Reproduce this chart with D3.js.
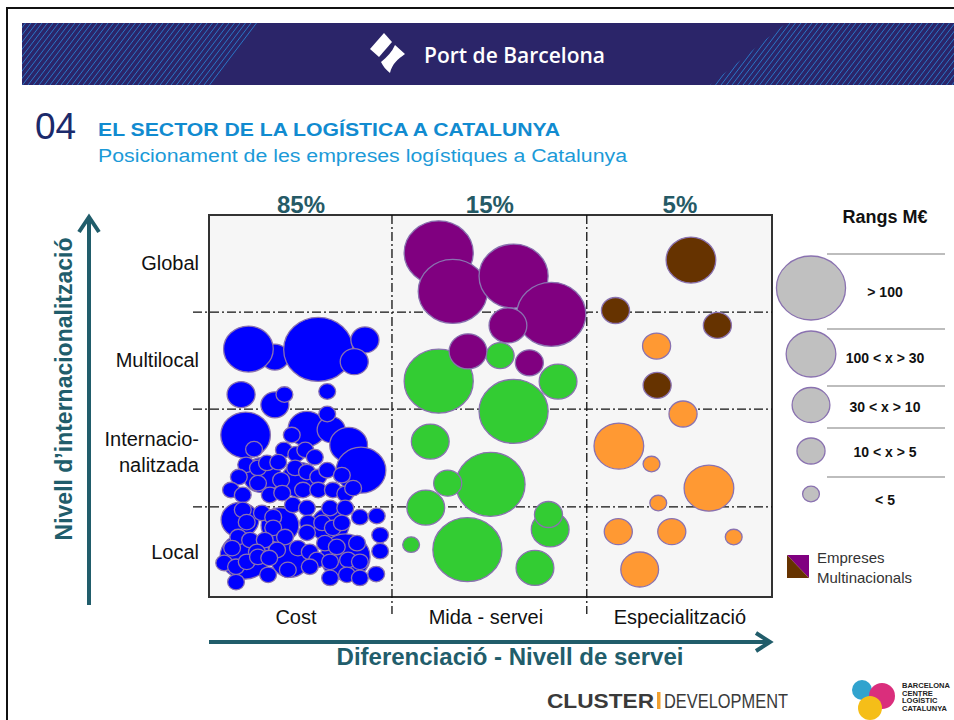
<!DOCTYPE html>
<html>
<head>
<meta charset="utf-8">
<script src="https://cdn.jsdelivr.net/npm/d3@7"></script>
<style>
body { margin: 0; background: #fff; }
svg { display: block; font-family: "Liberation Sans", Arial, sans-serif; }
</style>
</head>
<body>
<svg width="954" height="720"></svg>
<script>
// eixos: columnes (diferenciació) i files (internacionalització), en % de l'àrea
let columns = ['Cost', 'Mida - servei', 'Especialització']
let columnShares = ['85%', '15%', '5%']
let columnBounds = [0, 32.5, 67.1, 100]
let rows = ['Local', 'Internacio-|nalitzada', 'Multilocal', 'Global']
let rowBounds = [0, 23.6, 49.2, 74.6, 100]
let sizeRanges = ['> 100', '100 < x > 30', '30 < x > 10', '10 < x > 5', '< 5']

// empreses: [x, y, rang] (rang = index a sizeRanges)
let midaServei = [
    [40.8, 56.5, 0], [51.7, 63.2, 3], [62.0, 56.4, 2], [54.1, 48.6, 0], [39.3, 40.7, 2],
    [50.0, 29.5, 0], [42.4, 29.8, 3], [38.5, 23.4, 2], [45.9, 12.4, 0], [35.9, 13.7, 4],
    [60.6, 17.7, 2], [60.3, 21.6, 3], [57.9, 7.6, 2]
]
let multinacionals = [
    [40.8, 90.1, 0], [43.3, 80.0, 0], [54.1, 84.0, 0], [60.8, 74.0, 0], [53.1, 71.1, 2],
    [46.0, 64.3, 2], [56.9, 61.3, 3]
]
let multinacionalsEspecial = [
    [85.6, 88.2, 1], [72.2, 75.0, 3], [90.3, 71.1, 3], [79.6, 55.4, 3]
]
let especialitzades = [
    [79.5, 65.7, 3], [84.2, 47.9, 3], [72.8, 39.5, 1], [78.6, 34.8, 4], [88.8, 28.5, 1],
    [79.8, 24.6, 4], [72.7, 17.1, 3], [82.2, 17.1, 3], [93.2, 15.7, 4], [76.5, 7.2, 2]
]
let costEmpreses = [
    // multilocal
    [11.7, 62.8, 3], [7.0, 64.9, 1], [19.4, 64.8, 0], [27.7, 67.3, 3], [25.8, 61.6, 3],
    [5.7, 53.0, 3], [11.7, 50.3, 3], [13.4, 53.0, 4], [21.0, 53.8, 4],
    // grans sota el núvol
    [9.4, 31.9, 2], [16.2, 30.6, 2], [5.5, 20.2, 2], [12.6, 18.8, 2], [21.5, 18.8, 2],
    [6.4, 10.7, 1], [24.2, 10.5, 1], [14.4, 9.7, 2],
    // internacionalitzada
    [6.5, 42.4, 1], [17.4, 44.0, 2], [21.7, 43.8, 3], [24.8, 39.8, 2], [27.0, 33.2, 1],
    // petites
    [21.0, 47.9, 4], [8.0, 38.7, 4], [13.3, 38.5, 4], [14.7, 42.4, 4], [15.5, 37.4, 4],
    [17.1, 38.5, 4], [18.8, 36.6, 4], [6.6, 34.6, 4], [8.7, 33.8, 4], [10.3, 35.1, 4],
    [12.3, 35.3, 4], [15.3, 33.8, 4], [17.4, 32.7, 4], [19.4, 31.4, 4], [21.0, 33.2, 4],
    [23.6, 31.9, 4], [5.3, 31.4, 4], [8.7, 29.8, 4], [12.8, 30.6, 4], [3.9, 28.0, 4],
    [6.0, 26.7, 4], [10.8, 26.7, 4], [13.0, 27.2, 4], [16.7, 28.0, 4], [19.4, 28.0, 4],
    [22.0, 28.0, 4], [24.2, 27.0, 4], [25.6, 28.5, 4],
    [14.9, 24.1, 4], [17.4, 23.3, 4], [21.5, 23.3, 4], [24.2, 23.3, 4], [6.0, 22.8, 4],
    [9.4, 22.0, 4], [11.4, 20.9, 4], [6.7, 19.6, 4], [26.8, 20.9, 4], [29.8, 21.2, 4],
    [17.6, 19.4, 4], [20.1, 19.4, 4], [22.0, 18.1, 4], [23.6, 19.4, 4], [11.4, 18.1, 4],
    [13.5, 15.7, 4], [17.4, 16.8, 4], [5.2, 15.7, 4], [7.3, 14.9, 4], [9.9, 14.9, 4],
    [30.4, 16.2, 4], [4.1, 12.8, 4], [8.5, 11.8, 4], [12.1, 12.3, 4], [15.8, 12.8, 4],
    [17.9, 11.8, 4], [20.6, 14.1, 4], [22.7, 13.1, 4], [26.3, 14.1, 4], [30.4, 12.0, 4],
    [2.7, 8.9, 4], [4.8, 7.9, 4], [6.7, 9.2, 4], [8.7, 10.5, 4], [10.7, 10.2, 4],
    [19.2, 9.7, 4], [21.5, 9.2, 4], [24.7, 9.7, 4], [26.8, 9.2, 4], [10.5, 5.8, 4],
    [14.0, 7.1, 4], [17.9, 7.9, 4], [21.5, 5.0, 4], [24.5, 5.8, 4], [26.8, 5.0, 4],
    [29.7, 6.0, 4], [4.8, 3.9, 4]
]

let groups = [
    { data: midaServei, color: '#33cc33' },
    { data: multinacionals, color: '#800080' },
    { data: multinacionalsEspecial, color: '#663300' },
    { data: especialitzades, color: '#ff9933' },
    { data: costEmpreses, color: '#0000ff' }
]

let svg = d3.select('svg')
let teal = '#215d6b'

let plot = { left: 209, right: 772, top: 215, bottom: 597 }

let scale = {
    x: d3.scaleLinear().domain([0, 100]).range([plot.left, plot.right]),
    y: d3.scaleLinear().domain([0, 100]).range([plot.bottom, plot.top]),
    r: d3.scaleOrdinal().domain(d3.range(sizeRanges.length)).range([32, 23, 17.5, 13, 7.8])
}
let rx = i => scale.r(i) * 1.08

let mids = b => b.slice(1).map((v, i) => (v + b[i]) / 2)

// ---- capçalera ----
svg.append('path')
    .attr('d', 'M7,720 V8 H954')
    .attr('fill', 'none')
    .attr('stroke', '#111')
    .attr('stroke-width', 2)

svg.append('rect')
    .attr('x', 22).attr('y', 23)
    .attr('width', 932).attr('height', 62)
    .attr('fill', '#2b2569')

let clip = svg.append('clipPath').attr('id', 'hatch')
clip.append('polygon').attr('points', '22,23 259,23 212,85 22,85')
clip.append('polygon').attr('points', '786,23 954,23 954,85 710,85')

svg.append('g')
    .attr('clip-path', 'url(#hatch)')
    .selectAll('line')
    .data(d3.range(-60, 960, 5.5))
    .enter()
    .append('line')
    .attr('x1', d => d).attr('y1', 85)
    .attr('x2', d => d + 47).attr('y2', 23)
    .attr('stroke', '#2a7fd0')
    .attr('stroke-width', 0.9)

let logo = svg.append('g').attr('fill', '#fff')
logo.append('path').attr('d', 'M384,33 L392,42 L379,57 L370,49 Z')
logo.append('path').attr('d', 'M395,45 L405,54 C398,59 392,64 390,73 C386,70 383,66 381,62 C387,57 392,52 395,45 Z')

svg.append('text')
    .attr('x', 424).attr('y', 63)
    .attr('fill', '#fff')
    .attr('font-family', '"Open Sans", sans-serif')
    .attr('font-weight', 600)
    .attr('font-size', 21)
    .text('Port de Barcelona')

// ---- títols ----
svg.append('text')
    .attr('x', 35).attr('y', 139)
    .attr('fill', '#1b2a6b')
    .attr('font-size', 37)
    .text('04')

svg.append('text')
    .attr('x', 98).attr('y', 136)
    .attr('fill', '#118bd0')
    .attr('font-weight', 'bold')
    .attr('font-size', 19)
    .attr('textLength', 462)
    .attr('lengthAdjust', 'spacingAndGlyphs')
    .text('EL SECTOR DE LA LOGÍSTICA A CATALUNYA')

svg.append('text')
    .attr('x', 98).attr('y', 162)
    .attr('fill', '#1b9ad8')
    .attr('font-size', 18)
    .attr('textLength', 529)
    .attr('lengthAdjust', 'spacingAndGlyphs')
    .text('Posicionament de les empreses logístiques a Catalunya')

// ---- àrea del gràfic ----
svg.append('rect')
    .attr('x', plot.left).attr('y', plot.top)
    .attr('width', plot.right - plot.left)
    .attr('height', plot.bottom - plot.top)
    .attr('fill', '#f6f6f6')
    .attr('stroke', '#333')
    .attr('stroke-width', 2)

let grid = svg.append('g')
    .attr('stroke', '#111')
    .attr('stroke-width', 1.3)
    .attr('stroke-dasharray', '9,3,2,3')

grid.selectAll('.row-line')
    .data(rowBounds.slice(1, -1))
    .enter()
    .append('line')
    .attr('x1', plot.left - 16).attr('x2', plot.right)
    .attr('y1', d => scale.y(d)).attr('y2', d => scale.y(d))

grid.selectAll('.col-line')
    .data(columnBounds.slice(1, -1))
    .enter()
    .append('line')
    .attr('x1', d => scale.x(d)).attr('x2', d => scale.x(d))
    .attr('y1', plot.top).attr('y2', plot.bottom + 17)

// bombolles
groups.forEach(grp => {
    svg.append('g')
        .selectAll('ellipse')
        .data(grp.data)
        .enter()
        .append('ellipse')
        .attr('cx', d => scale.x(d[0]))
        .attr('cy', d => scale.y(d[1]))
        .attr('rx', d => rx(d[2]))
        .attr('ry', d => scale.r(d[2]))
        .attr('fill', grp.color)
        .attr('stroke', '#8a72b0')
        .attr('stroke-width', 1.3)
})

// ---- eixos ----
let axis = {
    bottom: d3.axisBottom(scale.x).tickValues(mids(columnBounds))
        .tickFormat((d, i) => columns[i]).tickSize(0).tickPadding(13),
    top: d3.axisTop(scale.x).tickValues(mids(columnBounds))
        .tickFormat((d, i) => columnShares[i]).tickSize(0).tickPadding(2),
    left: d3.axisLeft(scale.y).tickValues(mids(rowBounds))
        .tickFormat((d, i) => rows[i]).tickSize(0).tickPadding(10)
}

let gx = svg.append('g')
    .attr('transform', `translate(0,${plot.bottom})`)
    .call(axis.bottom)
gx.select('.domain').remove()
gx.selectAll('text')
    .attr('font-size', 20)
    .attr('font-family', '"Liberation Sans", Arial, sans-serif')
    .attr('fill', '#111')
    .attr('dx', (d, i) => [-5, -4, 0][i])

let gt = svg.append('g')
    .attr('transform', `translate(0,${plot.top})`)
    .call(axis.top)
gt.select('.domain').remove()
gt.selectAll('text')
    .attr('font-size', 24)
    .attr('font-weight', 'bold')
    .attr('font-family', '"Liberation Sans", Arial, sans-serif')
    .attr('fill', '#255a66')

let gy = svg.append('g')
    .attr('transform', `translate(${plot.left},0)`)
    .call(axis.left)
gy.select('.domain').remove()
gy.selectAll('text')
    .attr('font-size', 20)
    .attr('font-family', '"Liberation Sans", Arial, sans-serif')
    .attr('fill', '#111')
    .each(function (d, i) {
        let parts = rows[i].split('|')
        if (parts.length < 2) return
        let t = d3.select(this).text(null)
        t.append('tspan').attr('x', -10).attr('dy', '-0.6em').text(parts[0])
        t.append('tspan').attr('x', -10).attr('dy', '1.3em').text(parts[1])
    })

// fletxes
let arrows = svg.append('g')
    .attr('stroke', teal)
    .attr('stroke-width', 4)
    .attr('fill', 'none')
arrows.append('line').attr('x1', 89).attr('x2', 89).attr('y1', 605).attr('y2', 217)
arrows.append('path').attr('d', 'M79,232 L89,217 L99,232')
arrows.append('line').attr('x1', plot.left).attr('x2', 769).attr('y1', 642).attr('y2', 642)
arrows.append('path').attr('d', 'M756,633 L770,642 L756,651')

svg.append('text')
    .attr('transform', 'translate(72,389) rotate(-90)')
    .attr('text-anchor', 'middle')
    .attr('font-weight', 'bold')
    .attr('font-size', 23)
    .attr('fill', teal)
    .text('Nivell d’internacionalització')

svg.append('text')
    .attr('x', 510).attr('y', 665)
    .attr('text-anchor', 'middle')
    .attr('font-weight', 'bold')
    .attr('font-size', 24)
    .attr('fill', teal)
    .text('Diferenciació - Nivell de servei')

// ---- llegenda ----
let legendY = d3.scaleOrdinal().domain(d3.range(sizeRanges.length)).range([288, 354, 405, 451, 494])

svg.append('text')
    .attr('x', 885).attr('y', 223)
    .attr('text-anchor', 'middle')
    .attr('font-weight', 'bold')
    .attr('font-size', 18)
    .attr('fill', '#111')
    .text('Rangs M€')

svg.selectAll('.sep')
    .data([254, 329, 386, 428, 477])
    .enter()
    .append('line')
    .attr('x1', 827).attr('x2', 945)
    .attr('y1', d => d).attr('y2', d => d)
    .attr('stroke', '#bdbdbd')
    .attr('stroke-width', 2)

let legend = svg.selectAll('.legend')
    .data(sizeRanges)
    .enter()
    .append('g')

legend.append('ellipse')
    .attr('cx', 811)
    .attr('cy', (d, i) => legendY(i))
    .attr('rx', (d, i) => rx(i))
    .attr('ry', (d, i) => scale.r(i))
    .attr('fill', '#c0c0c0')
    .attr('stroke', '#8a72b0')
    .attr('stroke-width', 1.3)

legend.append('text')
    .attr('x', 885)
    .attr('y', (d, i) => legendY(i) + [9, 9, 7, 6, 11][i])
    .attr('text-anchor', 'middle')
    .attr('font-weight', 'bold')
    .attr('font-size', 14)
    .attr('fill', '#111')
    .text(d => d)

svg.append('path').attr('d', 'M787,555 L809,555 L809,578 Z').attr('fill', '#800080')
svg.append('path').attr('d', 'M787,555 L809,578 L787,578 Z').attr('fill', '#663300')
svg.append('text')
    .attr('x', 817).attr('y', 563)
    .attr('font-size', 15).attr('fill', '#333')
    .text('Empreses')
svg.append('text')
    .attr('x', 817).attr('y', 583)
    .attr('font-size', 15).attr('fill', '#333')
    .text('Multinacionals')

// ---- peu ----
svg.append('text')
    .attr('x', 547).attr('y', 708)
    .attr('font-weight', 'bold').attr('font-size', 21)
    .attr('fill', '#3a3a3a')
    .attr('textLength', 107).attr('lengthAdjust', 'spacingAndGlyphs')
    .text('CLUSTER')
svg.append('rect')
    .attr('x', 657).attr('y', 692).attr('width', 3.5).attr('height', 17)
    .attr('fill', '#f0a030')
svg.append('text')
    .attr('x', 664).attr('y', 708)
    .attr('font-size', 21)
    .attr('fill', '#3a3a3a')
    .attr('textLength', 124).attr('lengthAdjust', 'spacingAndGlyphs')
    .text('DEVELOPMENT')

let bcl = svg.append('g').attr('opacity', 0.9)
bcl.append('circle').attr('cx', 862).attr('cy', 690).attr('r', 10).attr('fill', '#1b9ac9')
bcl.append('circle').attr('cx', 882).attr('cy', 696).attr('r', 13).attr('fill', '#d6186e')
bcl.append('circle').attr('cx', 870).attr('cy', 708).attr('r', 12).attr('fill', '#f5b800')

svg.selectAll('.bcl-text')
    .data(['BARCELONA', 'CENTRE', 'LOGÍSTIC', 'CATALUNYA'])
    .enter()
    .append('text')
    .attr('x', 902)
    .attr('y', (d, i) => 688 + i * 7.5)
    .attr('font-size', 7.5)
    .attr('font-weight', 'bold')
    .attr('fill', '#222')
    .text(d => d)
</script>
</body>
</html>
